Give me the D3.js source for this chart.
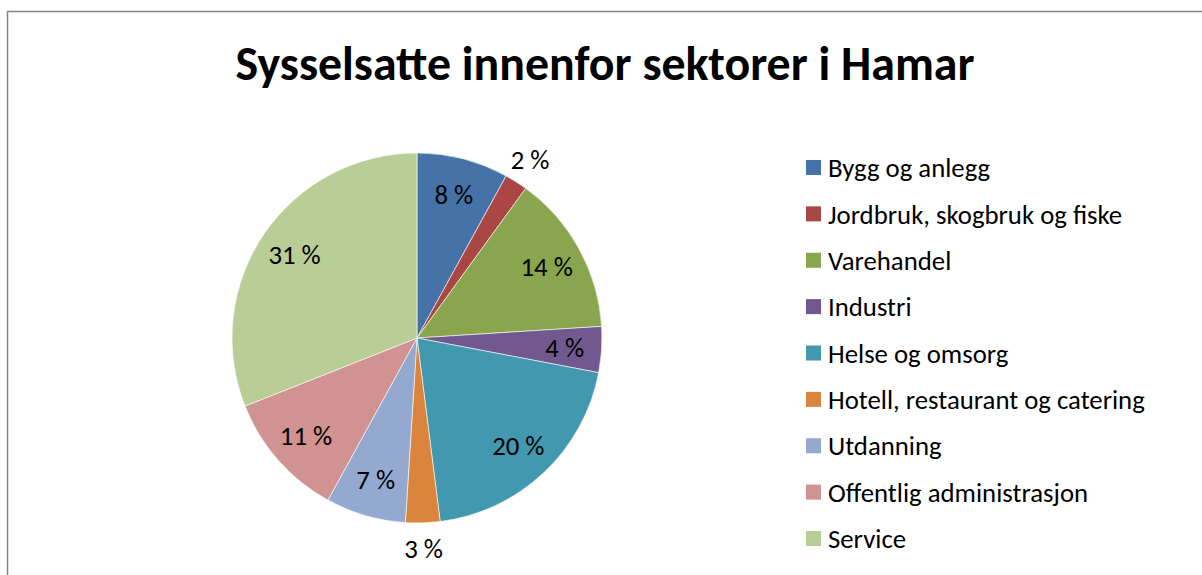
<!DOCTYPE html>
<html>
<head>
<meta charset="utf-8">
<script src="https://cdn.jsdelivr.net/npm/d3@7"></script>
<style>
  body { margin: 0; background: #fff; }
  svg { display: block; font-family: Calibri, Carlito, Lato, sans-serif; }
</style>
</head>
<body>
<svg id="chart" width="1202" height="575"></svg>
<script>
const chartTitle = "Sysselsatte innenfor sektorer i Hamar";
const categories = ["Bygg og anlegg", "Jordbruk, skogbruk og fiske", "Varehandel", "Industri",
    "Helse og omsorg", "Hotell, restaurant og catering", "Utdanning", "Offentlig administrasjon", "Service"];
const values = [8, 2, 14, 4, 20, 3, 7, 11, 31];
const colors = ["#4572A7", "#AA4643", "#89A54E", "#71588F", "#4198AF", "#DB843D", "#93A9CF", "#D19392", "#B9CD96"];

const svg = d3.select("#chart");

// frame (only top and left edge are visible in the picture)
svg.append("rect")
    .attr("x", 7.5).attr("y", 11.5)
    .attr("width", 1400).attr("height", 800)
    .attr("fill", "none").attr("stroke", "#868686").attr("stroke-width", 1.5);

// title, scaled to the width it has in the picture
const title = svg.append("text")
    .attr("x", 605).attr("y", 80)
    .attr("text-anchor", "middle")
    .attr("font-weight", "bold")
    .attr("font-size", 40)
    .attr("fill", "#000")
    .text(chartTitle);
let tw = title.node().getComputedTextLength();
title.attr("font-size", 40 * 739 / tw);

// pie
const cx = 417, cy = 338, radius = 185;
const total = d3.sum(values);
const color = d3.scaleOrdinal(categories, colors);
const pie = d3.pie().sort(null).value(d => d.value);
const arc = d3.arc().innerRadius(0).outerRadius(radius);
const data = categories.map((c, i) => ({ name: c, value: values[i] }));

const g = svg.append("g").attr("transform", `translate(${cx},${cy})`);
const slices = pie(data);

g.selectAll("path").data(slices).enter().append("path")
    .attr("d", arc)
    .attr("fill", d => color(d.data.name))
    .attr("stroke", "#fff")
    .attr("stroke-width", 0.6);

// labels: small slices get theirs outside the pie
const inner = d3.arc().innerRadius(148).outerRadius(148);
const outer = d3.arc().innerRadius(211).outerRadius(211);
const labelSize = 23;
g.selectAll("text.lbl").data(slices).enter().append("text")
    .attr("class", "lbl")
    .attr("transform", d => `translate(${(d.data.value < 4 ? outer : inner).centroid(d)})`)
    .attr("text-anchor", "middle")
    .attr("dy", "0.35em")
    .attr("font-size", labelSize)
    .attr("fill", "#000")
    .text(d => Math.round(d.data.value / total * 100) + " %");

// legend
const legendY = d3.scalePoint().domain(categories).range([167.5, 538.5]);
const legend = svg.append("g");
const rows = legend.selectAll("g").data(categories).enter().append("g")
    .attr("transform", d => `translate(806,${legendY(d)})`);
rows.append("rect")
    .attr("x", 0).attr("y", -7.5).attr("width", 15).attr("height", 15)
    .attr("fill", d => color(d));
const ltext = rows.append("text")
    .attr("x", 22).attr("dy", "0.36em")
    .attr("font-size", 24)
    .attr("fill", "#000")
    .text(d => d);
// match the longest entry's width in the picture
const longest = d3.max(ltext.nodes(), n => n.getComputedTextLength());
const legendSize = 24 * 317 / longest;
ltext.attr("font-size", legendSize);
g.selectAll("text.lbl").attr("font-size", legendSize);
</script>
</body>
</html>
